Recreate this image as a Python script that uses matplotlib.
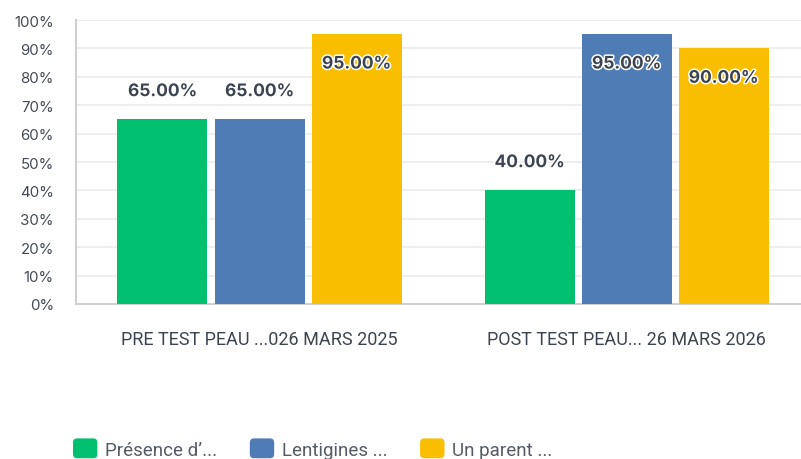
import numpy as np
import matplotlib
matplotlib.use("Agg")
import matplotlib.pyplot as plt
import matplotlib.patheffects as pe
from matplotlib.patches import FancyBboxPatch, Rectangle
from matplotlib.legend_handler import HandlerPatch
from matplotlib.ticker import FuncFormatter

# données
groupes = ["PRE TEST PEAU ...026 MARS 2025", "POST TEST PEAU... 26 MARS 2026"]
series = ["Présence d’...", "Lentigines ...", "Un parent ..."]
presence = [0.65, 0.40]
lentigines = [0.65, 0.95]
parent = [0.95, 0.90]
couleurs = ["#00BF6F", "#507CB6", "#F9BE00"]

valeurs = [presence, lentigines, parent]

W, H = 801, 460
fig = plt.figure(figsize=(W / 100, H / 100), dpi=100)
# axes placés en pixels (gauche 76, bas 305, haut 21, droite ~810)
ax = fig.add_axes([76 / W, (H - 305) / H, (810 - 76) / W, (305 - 21) / H])

x = np.arange(len(groupes))
largeur = 90 / 367
pas = 97 / 367

for i, (nom, vals, c) in enumerate(zip(series, valeurs, couleurs)):
    pos = x + (i - 1) * pas
    barres = ax.bar(pos, vals, width=largeur, color=c, label=nom, zorder=3)
    for b, v in zip(barres, vals):
        # étiquette dans la barre si trop haute
        if v > 0.85:
            dy = -21.5
        else:
            dy = 20
        ax.annotate(f"{v * 100:.2f}%", (b.get_x() + b.get_width() / 2, v),
                    xytext=(0, dy), textcoords="offset points",
                    ha="center", va="center", fontsize=12.5, fontweight="bold",
                    color="#3D4451", family=["Inter", "DejaVu Sans"], zorder=5,
                    path_effects=[pe.withStroke(linewidth=2.2, foreground="white")])

ax.set_xlim(-0.5, 1.5)
ax.set_ylim(0, 1.0)
ax.set_yticks(np.arange(0, 1.01, 0.1))
ax.yaxis.set_major_formatter(FuncFormatter(lambda v, p: f"{v * 100:.0f}%"))
ax.set_xticks(x)
ax.set_xticklabels(groupes)

ax.grid(axis="y", color="#EBEBEB", linewidth=1.2, zorder=0)
ax.tick_params(axis="y", length=0, pad=16, labelsize=10.8, labelcolor="#444A55")
ax.tick_params(axis="x", length=0, pad=19, labelsize=13, labelcolor="#3D4451")
for lab in ax.get_xticklabels():
    lab.set_family(["Roboto", "DejaVu Sans"])
for lab in ax.get_yticklabels():
    lab.set_family(["Inter", "DejaVu Sans"])

for s in ["top", "right"]:
    ax.spines[s].set_visible(False)
ax.spines["left"].set_color("#D0D0D0")
ax.spines["bottom"].set_color("#D0D0D0")
ax.spines["left"].set_linewidth(1.5)
ax.spines["bottom"].set_linewidth(1.5)


class HandlerArrondi(HandlerPatch):
    def create_artists(self, legend, orig_handle, xdescent, ydescent,
                       width, height, fontsize, trans):
        p = FancyBboxPatch((-xdescent, -ydescent), width, height,
                           boxstyle="round,pad=0,rounding_size=3",
                           facecolor=orig_handle.get_facecolor(),
                           edgecolor="none", transform=trans)
        return [p]


handles = [Rectangle((0, 0), 1, 1, facecolor=c) for c in couleurs]
leg = fig.legend(handles, series, loc="center left",
                 bbox_to_anchor=(73 / W, (H - 449.5) / H), ncol=3, frameon=False,
                 handlelength=1.3, handleheight=1.25, handletextpad=0.4,
                 columnspacing=1.75, borderaxespad=0, borderpad=0,
                 prop={"family": ["Roboto", "DejaVu Sans"], "size": 13.5},
                 handler_map={Rectangle: HandlerArrondi()})
for t in leg.get_texts():
    t.set_color("#555B66")

fig.savefig("out.png", dpi=100)
